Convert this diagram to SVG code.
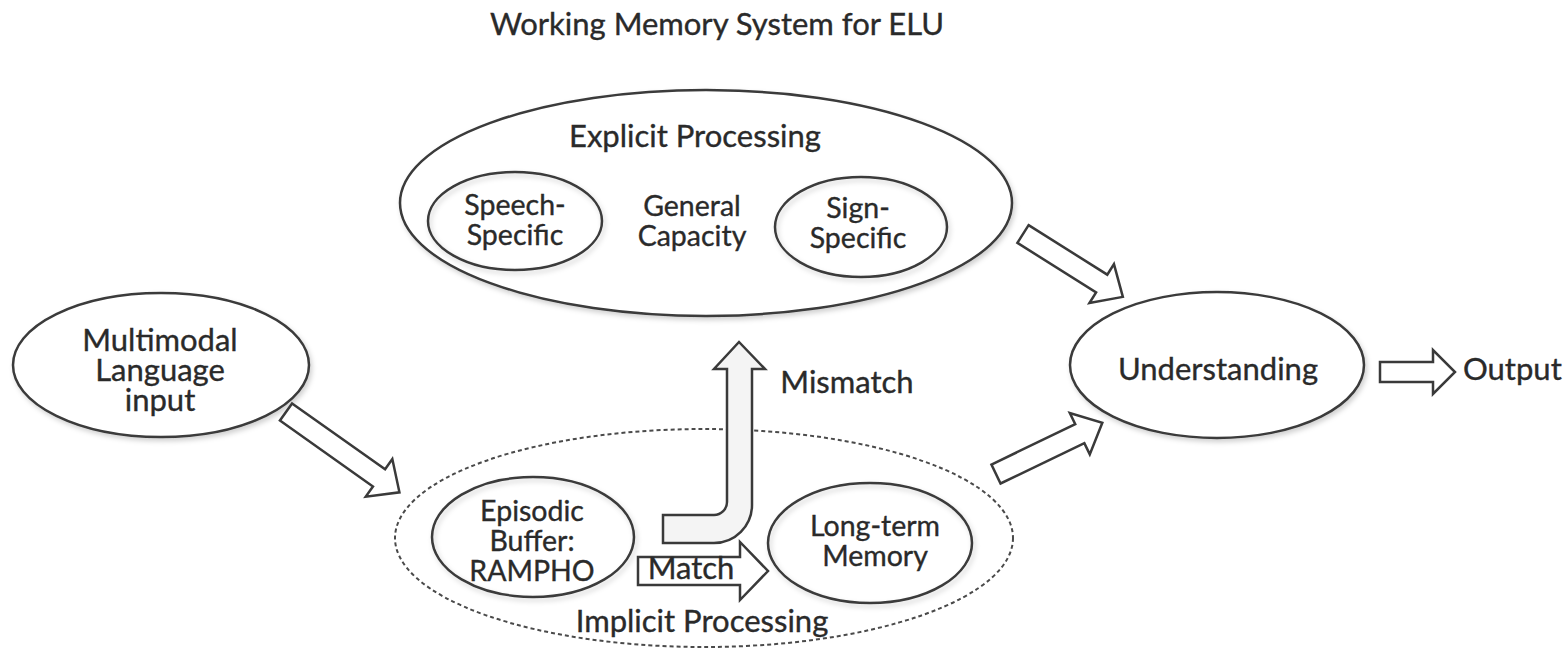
<svg xmlns="http://www.w3.org/2000/svg" width="1568" height="659" viewBox="0 0 1568 659">
  <defs>
    <filter id="soft-shadow" x="-10%" y="-10%" width="120%" height="130%">
      <feDropShadow dx="2" dy="3" stdDeviation="2.5" flood-color="#000" flood-opacity="0.18"/>
    </filter>
  </defs>
  <style>
    .oval { fill: #ffffff; stroke: #3a3a3a; stroke-width: 2.5; filter: url(#soft-shadow); }
    .oval-inner { fill: none; stroke: #3a3a3a; stroke-width: 2.5; filter: url(#soft-shadow); }
    .dashed { fill: none; stroke: #4a4a4a; stroke-width: 2; stroke-dasharray: 4 3; }
    .block { fill: #ffffff; stroke: #3a3a3a; stroke-width: 2.5; stroke-linejoin: miter; }
    .bent { fill: #f4f4f4; stroke: #3a3a3a; stroke-width: 2.5; }
    text { font-family: Lato, "Liberation Sans", sans-serif; font-size: 31px; fill: #2a2a2a; stroke: #2a2a2a; stroke-width: 0.35; text-anchor: middle; }
    .small { font-size: 28.5px; }
  </style>

  <rect width="1568" height="659" fill="#ffffff"/>

  <text x="717" y="35">Working Memory System for ELU</text>

  <!-- explicit processing container -->
  <g id="explicit-processing">
    <ellipse class="oval" cx="706" cy="203" rx="306" ry="113"/>
    <text x="695" y="147">Explicit Processing</text>
    <text class="small" x="692" y="216">General</text>
    <text class="small" x="692" y="246">Capacity</text>
  </g>
  <g id="speech-specific">
    <ellipse class="oval-inner" cx="515" cy="221" rx="87" ry="49"/>
    <text class="small" x="515" y="215">Speech-</text>
    <text class="small" x="515" y="245">Specific</text>
  </g>
  <g id="sign-specific">
    <ellipse class="oval-inner" cx="861" cy="227" rx="86" ry="50"/>
    <text class="small" x="858" y="218">Sign-</text>
    <text class="small" x="858" y="248">Specific</text>
  </g>

  <!-- input -->
  <g id="multimodal-input">
    <ellipse class="oval" cx="161" cy="365" rx="148" ry="72"/>
    <text x="160" y="351">Multimodal</text>
    <text x="160" y="381">Language</text>
    <text x="160" y="411">input</text>
  </g>

  <!-- implicit processing container -->
  <g id="implicit-processing">
    <ellipse class="dashed" cx="704" cy="538" rx="309" ry="109"/>
    <text x="702" y="632">Implicit Processing</text>
  </g>
  <g id="episodic-buffer">
    <ellipse class="oval-inner" cx="533" cy="537" rx="101" ry="60"/>
    <text class="small" x="532" y="521">Episodic</text>
    <text class="small" x="532" y="551">Buffer:</text>
    <text class="small" x="532" y="581">RAMPHO</text>
  </g>
  <g id="long-term-memory">
    <ellipse class="oval-inner" cx="870" cy="543" rx="102" ry="60"/>
    <text class="small" x="875" y="536">Long-term</text>
    <text class="small" x="875" y="566">Memory</text>
  </g>

  <!-- understanding and output -->
  <g id="understanding">
    <ellipse class="oval" cx="1217" cy="365" rx="147" ry="73"/>
    <text x="1218" y="380">Understanding</text>
  </g>
  <g id="output">
    <text x="1463" y="380" style="text-anchor:start">Output</text>
  </g>

  <!-- block arrows between stages -->
  <g id="connectors">
    <path class="block" transform="translate(286,412) rotate(35.3)" d="M0,-10.5 H114 V-23 L139,0 L114,23 V10.5 H0 Z"/>
    <path class="block" transform="translate(1023,234) rotate(32.2)" d="M0,-10.5 H93 V-23 L118,0 L93,23 V10.5 H0 Z"/>
    <path class="block" transform="translate(996,474) rotate(-25.7)" d="M0,-10.5 H93 V-23 L118,0 L93,23 V10.5 H0 Z"/>
    <path class="block" transform="translate(1380,372)" d="M0,-10 H53 V-22 L75,0 L53,22 V10 H0 Z"/>
    <path class="block" d="M638,557 H740 V542 L768,571 L740,600 V585 H638 Z"/>
    <path class="bent" d="M663,515 H714 A13,13 0 0 0 727,502 V369 H714 L739,342 L765,369 H752 V505 A38,38 0 0 1 714,543 H663 Z"/>
    <text x="691" y="579">Match</text>
    <text x="847" y="393">Mismatch</text>
  </g>
</svg>
